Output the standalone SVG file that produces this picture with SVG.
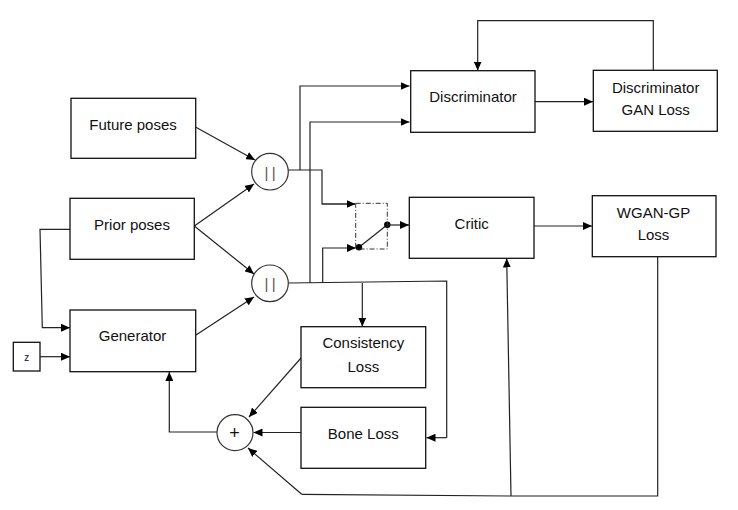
<svg xmlns="http://www.w3.org/2000/svg" width="738" height="510" viewBox="0 0 738 510">
<defs>
<marker id="arr" markerUnits="userSpaceOnUse" markerWidth="10" markerHeight="8" refX="9" refY="4" orient="auto">
<path d="M0,0 L9,4 L0,8 Z" fill="#000"/>
</marker>
<style>
.box{fill:#fff;stroke:#111;stroke-width:1.3}
.t{font-family:"Liberation Sans",Arial,sans-serif;font-size:15px;fill:#111;text-anchor:middle}
.c{fill:none;stroke:#222;stroke-width:1.2}
.a{marker-end:url(#arr)}
.circ{fill:#fff;stroke:#333;stroke-width:1.2}
.bar{font-family:"Liberation Sans",Arial,sans-serif;font-size:15px;fill:#555;text-anchor:middle;letter-spacing:3.4px}
</style>
</defs>
<rect width="738" height="510" fill="#fff"/>

<g id="connectors">
<path class="c a" d="M195,126.7 L255,160"/>
<path class="c a" d="M194.3,226 L254,184"/>
<path class="c a" d="M194.3,226 L254,274"/>
<path class="c a" d="M196,335 L254,297"/>
<path class="c" d="M288,170 H322 V204 H355"/>
<path class="c a" d="M322,204 H355.5"/>
<path class="c a" d="M300,170 V86 H409.5"/>
<path class="c" d="M288,283 L446.7,281 V437.7"/>
<path class="c a" d="M446.7,437.7 H426.5"/>
<path class="c a" d="M310,283 V122 H409.5"/>
<path class="c a" d="M322.7,283 V248 H356"/>
<path class="c a" d="M362.3,283 V326.5"/>
<path class="c" d="M359,247.3 L387.3,224.7"/>
<circle cx="359" cy="247.3" r="3.2" fill="#000"/>
<circle cx="387.3" cy="224.7" r="3.2" fill="#000"/>
<path class="c a" d="M387.3,225 H409"/>
<path class="c a" d="M535,101.7 H593"/>
<path class="c a" d="M653.3,70.3 V20.7 H477.7 V70.5"/>
<path class="c a" d="M534,226 H592"/>
<path class="c" d="M657.7,256.7 V496 H511 L301.7,494.3"/>
<path class="c a" d="M301.7,494.3 L248,448"/>
<path class="c a" d="M511,496 L506.7,258.5"/>
<path class="c a" d="M301,358 L249,417"/>
<path class="c a" d="M301,432.5 H253.5"/>
<path class="c a" d="M217,432 H169.3 V372"/>
<path class="c a" d="M70,229.3 H40 L42.3,327.7 H70"/>
<path class="c a" d="M40,356.7 H70"/>
</g>

<g id="future-poses">
<rect class="box" x="71" y="98.3" width="124.7" height="60"/>
<text class="t" x="133" y="129.5">Future poses</text>
</g>
<g id="prior-poses">
<rect class="box" x="70" y="198.3" width="124.3" height="61"/>
<text class="t" x="132" y="229.5">Prior poses</text>
</g>
<g id="generator">
<rect class="box" x="70" y="310" width="125.7" height="61.7"/>
<text class="t" x="132.5" y="340.5">Generator</text>
</g>
<g id="z">
<rect class="box" x="13.3" y="342.3" width="26.7" height="28.7"/>
<text class="t" x="26.7" y="360.5" style="font-size:10px">z</text>
</g>
<g id="concat-top">
<circle class="circ" cx="270" cy="171.7" r="18.3"/>
<text class="bar" x="271.7" y="177.5">||</text>
</g>
<g id="concat-bottom">
<circle class="circ" cx="270" cy="283.3" r="18.3"/>
<text class="bar" x="271.7" y="289.1">||</text>
</g>
<g id="switch">
<rect x="355.7" y="203.3" width="31.6" height="45.7" fill="none" stroke="#333" stroke-width="1" stroke-dasharray="5 2 1 2"/>
</g>
<g id="discriminator">
<rect class="box" x="410.7" y="70.7" width="124.3" height="61.6"/>
<text class="t" x="473" y="102">Discriminator</text>
</g>
<g id="disc-gan-loss">
<rect class="box" x="593.3" y="70.3" width="124" height="61"/>
<text class="t" x="655.7" y="92.5">Discriminator</text>
<text class="t" x="655.7" y="114.5">GAN Loss</text>
</g>
<g id="critic">
<rect class="box" x="409.3" y="197.3" width="124.7" height="61"/>
<text class="t" x="471.7" y="228.5">Critic</text>
</g>
<g id="wgan-gp-loss">
<rect class="box" x="592.3" y="195.7" width="123.7" height="61"/>
<text class="t" x="653.5" y="218">WGAN-GP</text>
<text class="t" x="653.5" y="240">Loss</text>
</g>
<g id="consistency-loss">
<rect class="box" x="301" y="326.7" width="124.7" height="61"/>
<text class="t" x="363.3" y="348">Consistency</text>
<text class="t" x="363.3" y="372">Loss</text>
</g>
<g id="bone-loss">
<rect class="box" x="301" y="407.3" width="124.7" height="61"/>
<text class="t" x="363.3" y="438.5">Bone Loss</text>
</g>
<g id="sum">
<circle class="circ" cx="235" cy="432.7" r="18"/>
<text class="t" x="234.5" y="439" style="font-size:18px">+</text>
</g>
</svg>
